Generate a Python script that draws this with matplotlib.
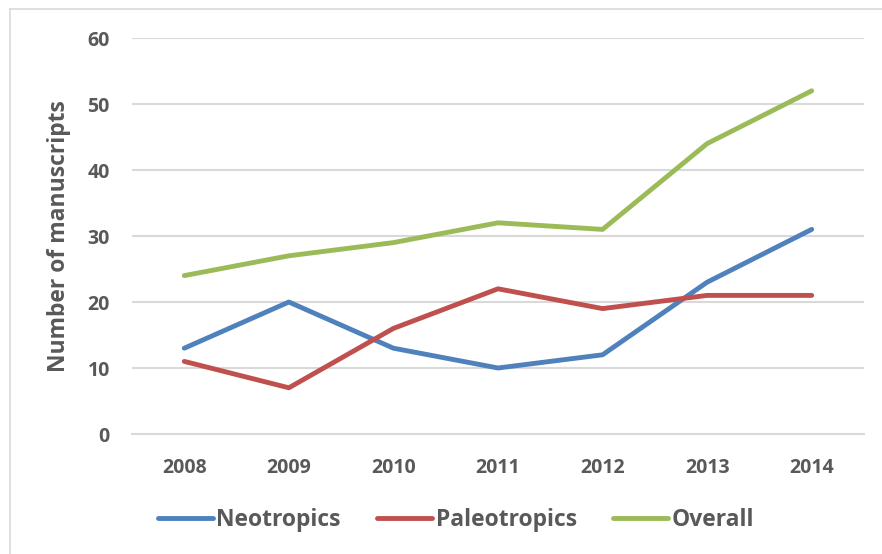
import matplotlib
matplotlib.use("Agg")
import matplotlib.pyplot as plt
from matplotlib.lines import Line2D

# Manuscripts per year by region
years = ['2008', '2009', '2010', '2011', '2012', '2013', '2014']
neotropics = [13, 20, 13, 10, 12, 23, 31]
paleotropics = [11, 7, 16, 22, 19, 21, 21]
overall = [24, 27, 29, 32, 31, 44, 52]

text_color = '#595959'
grid_color = '#d9d9d9'
plt.rcParams['font.family'] = ['Open Sans', 'DejaVu Sans']
plt.rcParams['font.weight'] = 'bold'

fig = plt.figure(figsize=(8.82, 5.54), dpi=100)
ax = fig.add_axes([132 / 882, 1 - 434 / 554, (864 - 132) / 882, (434 - 38) / 554])

x = range(len(years))
ax.plot(x, neotropics, color='#4f81bd', lw=3.5, label='Neotropics', solid_capstyle='round')
ax.plot(x, paleotropics, color='#c0504d', lw=3.5, label='Paleotropics', solid_capstyle='round')
ax.plot(x, overall, color='#9bbb59', lw=3.5, label='Overall', solid_capstyle='round')

ax.set_xlim(-0.5, len(years) - 0.5)
ax.set_ylim(0, 60)
ax.set_yticks(range(0, 61, 10))
ax.set_xticks(list(x))
ax.set_xticklabels(years)
ax.yaxis.grid(True, color=grid_color, lw=1.5)
ax.set_axisbelow(True)
for s in ['top', 'right', 'left']:
    ax.spines[s].set_visible(False)
ax.spines['bottom'].set_color(grid_color)
ax.spines['bottom'].set_linewidth(1.5)
ax.tick_params(length=0, labelsize=14, labelcolor=text_color)
ax.tick_params(axis='y', pad=16)
ax.tick_params(axis='x', pad=17)
for lbl in ax.get_xticklabels() + ax.get_yticklabels():
    lbl.set_fontweight('bold')

ax.set_ylabel('Number of manuscripts', fontsize=16.5, color=text_color, fontweight='bold')
ax.yaxis.set_label_coords((71 - 132) / 732, 0.5)

leg = fig.legend(loc='center', bbox_to_anchor=(0.517, 1 - 520 / 554), ncol=3,
                 frameon=False, fontsize=16.5, handlelength=2.4, handletextpad=0.15,
                 columnspacing=1.6)
for t in leg.get_texts():
    t.set_color(text_color)
    t.set_fontweight('bold')

# thin chart border along top and left
fig.add_artist(Line2D([10 / 882, 10 / 882], [0, 1 - 9 / 554], transform=fig.transFigure,
                      color=grid_color, lw=1.2))
fig.add_artist(Line2D([10 / 882, 1], [1 - 9 / 554, 1 - 9 / 554], transform=fig.transFigure,
                      color=grid_color, lw=1.2))

fig.savefig('out.png', dpi=100)
